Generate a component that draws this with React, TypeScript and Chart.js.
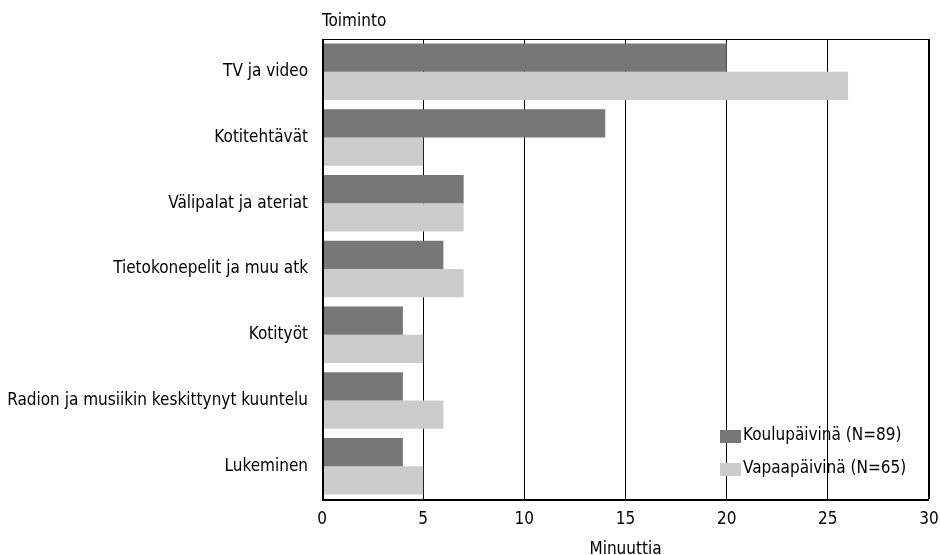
import React, { useEffect, useRef } from "react";
import { Chart, registerables } from "chart.js";

Chart.register(...registerables);

const categories = [
  "TV ja video",
  "Kotitehtävät",
  "Välipalat ja ateriat",
  "Tietokonepelit ja muu atk",
  "Kotityöt",
  "Radion ja musiikin keskittynyt kuuntelu",
  "Lukeminen",
];
const koulupaivina = [20, 14, 7, 6, 4, 4, 4];
const vapaapaivina = [26, 5, 7, 7, 5, 6, 5];
const seriesNames = ["Koulupäivinä (N=89)", "Vapaapäivinä (N=65)"];
const xTicks = [0, 5, 10, 15, 20, 25, 30];
const yTitle = "Toiminto";
const xTitle = "Minuuttia";

const FONT = "'DejaVu Sans Condensed', sans-serif";
const FSIZE = 17;
const DARK = "#777777";
const LIGHT = "#cccccc";

const decor = {
  id: "decor",
  afterDatasetsDraw(chart: any) {
    const { ctx, chartArea } = chart;
    const { left, right, top, bottom } = chartArea;
    ctx.save();
    ctx.strokeStyle = "#000";
    ctx.lineWidth = 1;
    ctx.strokeRect(left + 0.5, top + 0.5, right - left - 1, bottom - top);
    ctx.beginPath();
    ctx.lineWidth = 2;
    ctx.moveTo(left + 1, top);
    ctx.lineTo(left + 1, bottom + 1);
    ctx.lineTo(right, bottom + 1);
    ctx.stroke();
    ctx.fillStyle = "#000";
    ctx.font = `${FSIZE}px ${FONT}`;
    ctx.textBaseline = "middle";
    ctx.textAlign = "left";
    ctx.fillText(yTitle, left, top - 17);
    ctx.textAlign = "center";
    ctx.fillText(xTitle, (left + right) / 2, bottom + 51);
    // x tick labels
    const xs = chart.scales.x;
    for (const v of xTicks) {
      ctx.fillText(String(v), xs.getPixelForValue(v), bottom + 21);
    }
    // legend
    const colors = [DARK, LIGHT];
    const lx = right - 209;
    const ly = [bottom - 63, bottom - 30];
    ctx.textAlign = "left";
    for (let i = 0; i < 2; i++) {
      ctx.fillStyle = colors[i];
      ctx.fillRect(lx, ly[i] - 6, 21, 13);
      ctx.fillStyle = "#000";
      ctx.fillText(seriesNames[i], lx + 23, ly[i]);
    }
    ctx.restore();
  },
};

export default function App() {
  const ref = useRef<HTMLCanvasElement>(null);
  useEffect(() => {
    if (!ref.current) return;
    const chart = new Chart(ref.current, {
      type: "bar",
      data: {
        labels: categories,
        datasets: [
          { label: seriesNames[0], data: koulupaivina, backgroundColor: DARK },
          { label: seriesNames[1], data: vapaapaivina, backgroundColor: LIGHT },
        ],
      },
      options: {
        indexAxis: "y",
        animation: false,
        responsive: false,
        layout: { padding: { top: 39, right: 11, bottom: 26, left: 0 } },
        plugins: {
          legend: { display: false },
          tooltip: { enabled: false },
          title: { display: false },
        },
        datasets: {
          bar: { categoryPercentage: 0.86, barPercentage: 1 },
        },
        scales: {
          x: {
            min: 0,
            max: 30,
            afterBuildTicks: (s: any) => {
              s.ticks = xTicks.map((v) => ({ value: v }));
            },
            afterFit: (s: any) => {
              s.height = 30;
              s.paddingLeft = 0;
              s.paddingRight = 0;
            },
            grid: { color: "#000", drawTicks: false, lineWidth: 1 },
            border: { display: false },
            ticks: { display: false },
          },
          y: {
            grid: { display: false, drawTicks: false },
            border: { display: false },
            afterFit: (s: any) => {
              s.width = 322;
              s.paddingTop = 0;
              s.paddingBottom = 0;
            },
            ticks: { color: "#000", font: { family: FONT, size: FSIZE }, padding: 14 },
          },
        },
      },
      plugins: [decor],
    });
    return () => chart.destroy();
  }, []);
  return (
    <div style={{ position: "fixed", left: 0, top: 0, width: 940, height: 555, background: "#fff" }}>
      <canvas ref={ref} width={940} height={555} style={{ width: 940, height: 555 }} />
    </div>
  );
}
